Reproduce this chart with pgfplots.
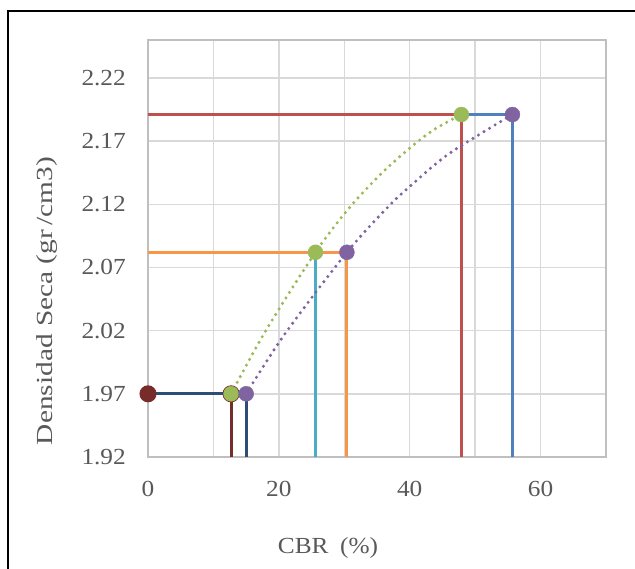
\documentclass[border=0pt]{standalone}
\usepackage{fontspec}
\setmainfont[FakeStretch=1.1]{Liberation Serif}
\usepackage{graphicx}
\usepackage{pgfplots}
\pgfplotsset{compat=1.18}
\definecolor{txtgray}{HTML}{595959}
\definecolor{gridgray}{HTML}{D9D9D9}
\definecolor{axgray}{HTML}{BFBFBF}
\definecolor{cdarkred}{HTML}{772C2A}
\definecolor{cnavy}{HTML}{2C4D75}
\definecolor{corange}{HTML}{F79646}
\definecolor{caqua}{HTML}{4BACC6}
\definecolor{cred}{HTML}{C0504D}
\definecolor{cblue}{HTML}{4F81BD}
\definecolor{cgreen}{HTML}{9BBB59}
\definecolor{cpurple}{HTML}{8064A2}
\newcommand\lab{\fontsize{23}{27}\selectfont}
\begin{document}
\begin{tikzpicture}[x=1pt,y=1pt]
\useasboundingbox (-148,-112) rectangle (487,457);
\fill[white] (-148,-112) rectangle (487,457);
\begin{axis}[
  scale only axis, width=458pt, height=417pt,
  xmin=0, xmax=70, ymin=1.92, ymax=2.25,
  xtick={0,10,...,70}, xticklabels={0,,20,,40,,60,},
  ytick={1.92,1.97,2.02,2.07,2.12,2.17,2.22},
  yticklabels={1.92,1.97,2.02,2.07,2.12,2.17,2.22},
  grid=major,
  major grid style={draw=gridgray, line width=1.5pt},
  axis line style={draw=axgray, line width=1.5pt},
  tick style={draw=none},
  tick label style={font=\lab, text=txtgray, inner sep=0pt},
  xticklabel style={anchor=north, yshift=-24pt},
  yticklabel style={anchor=east, xshift=-22pt},
  clip=false,
]
% dark red
\addplot[cdarkred, line width=3pt, mark=*, mark size=7pt, mark options={fill=cdarkred, draw=cdarkred}, mark indices={1,2}] coordinates {(0,1.97) (12.7,1.97) (12.7,1.92)};
% navy
\addplot[cnavy, line width=3pt] coordinates {(0,1.97) (15.0,1.97) (15.0,1.92)};
% orange
\addplot[corange, line width=3pt] coordinates {(0,2.082) (30.4,2.082) (30.4,1.92)};
% aqua
\addplot[caqua, line width=3pt] coordinates {(25.6,2.082) (25.6,1.92)};
% red
\addplot[cred, line width=3pt] coordinates {(0,2.191) (47.9,2.191) (47.9,1.92)};
% blue
\addplot[cblue, line width=3pt] coordinates {(47.9,2.191) (55.7,2.191) (55.7,1.92)};
% trendlines
\addplot[cgreen, line width=3.4pt, line cap=round, dash pattern=on 0pt off 6.5pt, smooth] coordinates {(12.7,1.97) (18,2.020) (25.6,2.082) (30.9,2.118) (36,2.146) (40.6,2.167) (44,2.180) (47.9,2.191)};
\addplot[cpurple, line width=3.4pt, line cap=round, dash pattern=on 0pt off 6.5pt, smooth] coordinates {(15.0,1.97) (21,2.018) (30.4,2.082) (36.7,2.118) (40,2.134) (46,2.160) (55.7,2.191)};
% markers
\addplot[only marks, mark=*, mark size=7.5pt, mark options={fill=cgreen, draw=cgreen}] coordinates {(12.7,1.97) (25.6,2.082) (47.9,2.191)};
\addplot[only marks, mark=*, mark size=7.5pt, mark options={fill=cpurple, draw=cpurple}] coordinates {(15.0,1.97) (30.4,2.082) (55.7,2.191)};
\end{axis}
\node[font=\lab, text=txtgray] at (180,-91) {CBR\hspace{0.5em}(\%)};
\node[font=\lab, text=txtgray, rotate=90] at (-101,156) {\scalebox{1.16}[1]{Densidad Seca (gr\,/cm3)}};
\draw[black, line width=2.5pt] (-140,-120) -- (-140,446) -- (500,446);
\end{tikzpicture}
\end{document}
